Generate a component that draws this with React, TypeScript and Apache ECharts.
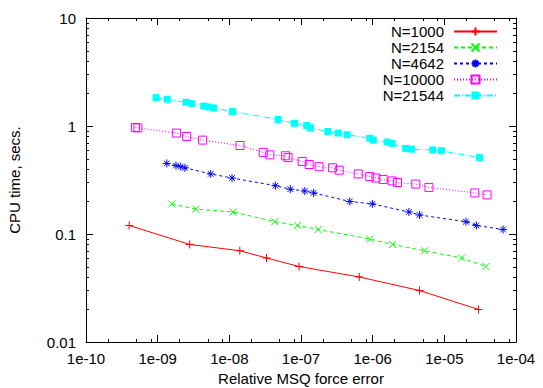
import React, { useEffect, useRef } from "react";
import * as echarts from "echarts";

// ---- data ----
const seriesNames = ["N=1000", "N=2154", "N=4642", "N=10000", "N=21544"];

const n1000X = [4.0e-10, 2.8e-9, 1.4e-8, 3.3e-8, 9.4e-8, 6.5e-7, 4.5e-6, 3.0e-5];
const n1000Y = [0.12, 0.08, 0.07, 0.06, 0.05, 0.04, 0.03, 0.02];

const n2154X = [1.57e-9, 3.4e-9, 1.13e-8, 4.3e-8, 9.0e-8, 1.74e-7, 9.1e-7, 1.9e-6, 5.3e-6, 1.74e-5, 3.8e-5];
const n2154Y = [0.19, 0.17, 0.16, 0.13, 0.12, 0.11, 0.09, 0.08, 0.07, 0.06, 0.05];

const n4642X = [1.34e-9, 1.8e-9, 2.1e-9, 2.4e-9, 5.5e-9, 1.09e-8, 4.4e-8, 7.1e-8, 1.13e-7, 1.5e-7, 4.8e-7, 9.9e-7, 3.2e-6, 4.5e-6, 2.0e-5, 2.8e-5, 6.6e-5];
const n4642Y = [0.45, 0.43, 0.42, 0.41, 0.36, 0.33, 0.28, 0.26, 0.25, 0.24, 0.2, 0.19, 0.16, 0.15, 0.13, 0.12, 0.11];

const n10000X = [4.9e-10, 5.3e-10, 1.84e-9, 2.54e-9, 4.24e-9, 1.41e-8, 2.97e-8, 3.68e-8, 6.1e-8, 6.6e-8, 1.04e-7, 1.3e-7, 1.79e-7, 2.76e-7, 3.41e-7, 6.3e-7, 9.1e-7, 1.11e-6, 1.4e-6, 1.87e-6, 2.22e-6, 4.0e-6, 6.1e-6, 2.66e-5, 3.95e-5];
const n10000Y = [0.97, 0.96, 0.86, 0.8, 0.74, 0.66, 0.57, 0.54, 0.53, 0.51, 0.47, 0.44, 0.42, 0.41, 0.39, 0.36, 0.34, 0.33, 0.32, 0.31, 0.3, 0.29, 0.27, 0.24, 0.23];

const n21544X = [9.5e-10, 1.36e-9, 2.48e-9, 2.98e-9, 4.4e-9, 5.1e-9, 6.0e-9, 1.11e-8, 4.8e-8, 8.1e-8, 1.2e-7, 1.36e-7, 2.37e-7, 3.3e-7, 4.4e-7, 9.1e-7, 1.02e-6, 1.59e-6, 1.87e-6, 2.88e-6, 3.5e-6, 6.9e-6, 9.1e-6, 3.1e-5];
const n21544Y = [1.83, 1.77, 1.66, 1.61, 1.53, 1.5, 1.47, 1.36, 1.15, 1.06, 1.01, 0.96, 0.89, 0.86, 0.83, 0.77, 0.74, 0.71, 0.69, 0.62, 0.61, 0.6, 0.59, 0.51];

const xTickLabels = ["1e-10", "1e-09", "1e-08", "1e-07", "1e-06", "1e-05", "1e-04"];
const xTickExponents = [-10, -9, -8, -7, -6, -5, -4];
const yTickLabels = ["0.01", "0.1", "1", "10"];
const yTickExponents = [-2, -1, 0, 1];
const xMinorMultipliers = [2, 5, 8];
const yMinorMultipliers = [2, 3, 4, 5, 6, 7, 8, 9];

const colors = ["#ff0000", "#00ff00", "#0000ff", "#ff00ff", "#00ffff"];
const dashes: any[] = ["solid", [4, 3], [3, 3], [1, 2], [6, 2, 1, 2]];

const FONT = "'Liberation Sans', Arial, Helvetica, sans-serif";
const FS = 15;

const PLUS = "path://M0,5L10,5M5,0L5,10";
const CROSS = "path://M0,0L10,10M10,0L0,10";
const STAR = "path://M0,5L10,5M5,0L5,10M1.5,1.5L8.5,8.5M8.5,1.5L1.5,8.5";
const SQUARE = "path://M0,0L10,0L10,10L0,10Z";

function zip(xs: number[], ys: number[]) {
  return xs.map((x, i) => [x, ys[i]]);
}

export default function App() {
  const ref = useRef<HTMLDivElement>(null);
  useEffect(() => {
    if (!ref.current) return;
    const chart = echarts.init(ref.current, null, { renderer: "svg" });

    const xMinor: number[][] = [];
    for (let i = 0; i < xTickExponents.length - 1; i++) {
      for (const m of xMinorMultipliers) xMinor.push([m * Math.pow(10, xTickExponents[i]), 1]);
    }
    const yMinor: number[][] = [];
    for (let i = 0; i < yTickExponents.length - 1; i++) {
      for (const m of yMinorMultipliers) yMinor.push([1e-7, m * Math.pow(10, yTickExponents[i])]);
    }

    const xLabel = (v: number) => {
      const e = Math.round(Math.log10(v));
      const idx = xTickExponents.indexOf(e);
      return idx >= 0 ? xTickLabels[idx] : "";
    };
    const yLabel = (v: number) => {
      const e = Math.round(Math.log10(v));
      const idx = yTickExponents.indexOf(e);
      return idx >= 0 ? yTickLabels[idx] : "";
    };

    const axisCommon = {
      type: "log",
      logBase: 10,
      axisLine: { show: true, lineStyle: { color: "#000", width: 1 } },
      axisTick: { show: true, inside: true, length: 7, lineStyle: { color: "#000", width: 1 } },
      splitLine: { show: false },
      minorTick: { show: false },
    };

    const lineSeries = (
      name: string,
      data: number[][],
      color: string,
      symbol: string,
      symbolSize: number,
      dash: any,
      filled: boolean
    ) => ({
      name,
      type: "line",
      data,
      symbol,
      symbolSize,
      showSymbol: true,
      showAllSymbol: true,
      lineStyle: { color, width: 1, type: dash },
      itemStyle: {
        color: filled ? color : "rgba(0,0,0,0)",
        borderColor: color,
        borderWidth: filled ? 0 : 1,
      },
      emphasis: { disabled: true },
      z: 3,
    });

    const minorRender = (isX: boolean) => (params: any, api: any) => {
      const cs = params.coordSys;
      const p = api.coord([api.value(0), api.value(1)]);
      const len = 3;
      if (isX) {
        const x = Math.round(p[0]) + 0.5;
        const b = cs.y + cs.height;
        return {
          type: "group",
          children: [
            { type: "line", shape: { x1: x, y1: b, x2: x, y2: b - len }, style: { stroke: "#000", lineWidth: 1 } },
            { type: "line", shape: { x1: x, y1: cs.y, x2: x, y2: cs.y + len }, style: { stroke: "#000", lineWidth: 1 } },
          ],
        };
      }
      const y = Math.round(p[1]) + 0.5;
      const r = cs.x + cs.width;
      return {
        type: "group",
        children: [
          { type: "line", shape: { x1: cs.x, y1: y, x2: cs.x + len, y2: y }, style: { stroke: "#000", lineWidth: 1 } },
          { type: "line", shape: { x1: r, y1: y, x2: r - len, y2: y }, style: { stroke: "#000", lineWidth: 1 } },
        ],
      };
    };

    chart.setOption({
      animation: false,
      backgroundColor: "#fff",
      textStyle: { fontFamily: FONT },
      grid: {
        left: 86,
        right: 27,
        top: 18,
        bottom: 46,
        outerBoundsMode: "none",
        containLabel: false,
      },
      legend: {
        data: seriesNames,
        orient: "vertical",
        align: "right",
        right: 40,
        top: 19,
        itemWidth: 43,
        itemHeight: 10,
        itemGap: 1,
        textStyle: { fontFamily: FONT, fontSize: FS, color: "#000", padding: [0, 5, 0, 0], lineHeight: 14 },
        selectedMode: false,
      },
      xAxis: [
        {
          ...axisCommon,
          position: "bottom",
          min: 1e-10,
          max: 1e-4,
          splitNumber: 6,
          name: "Relative MSQ force error",
          nameLocation: "middle",
          nameGap: 28,
          nameTextStyle: { fontFamily: FONT, fontSize: FS, color: "#000" },
          axisLabel: { formatter: xLabel, fontFamily: FONT, fontSize: FS, color: "#000", margin: 9 },
        },
        {
          ...axisCommon,
          position: "top",
          min: 1e-10,
          max: 1e-4,
          splitNumber: 6,
          axisLabel: { show: false },
        },
      ],
      yAxis: [
        {
          ...axisCommon,
          position: "left",
          min: 0.01,
          max: 10,
          splitNumber: 3,
          name: "CPU time, secs.",
          nameLocation: "middle",
          nameRotate: 90,
          nameGap: 64,
          nameTextStyle: { fontFamily: FONT, fontSize: FS, color: "#000" },
          axisLabel: { formatter: yLabel, fontFamily: FONT, fontSize: FS, color: "#000", margin: 10 },
        },
        {
          ...axisCommon,
          position: "right",
          min: 0.01,
          max: 10,
          splitNumber: 3,
          axisLabel: { show: false },
        },
      ],
      series: [
        lineSeries(seriesNames[0], zip(n1000X, n1000Y), colors[0], PLUS, 8, dashes[0], false),
        lineSeries(seriesNames[1], zip(n2154X, n2154Y), colors[1], CROSS, 7, dashes[1], false),
        lineSeries(seriesNames[2], zip(n4642X, n4642Y), colors[2], STAR, 8, dashes[2], false),
        lineSeries(seriesNames[3], zip(n10000X, n10000Y), colors[3], SQUARE, 8, dashes[3], false),
        lineSeries(seriesNames[4], zip(n21544X, n21544Y), colors[4], "rect", 7, dashes[4], true),
        {
          type: "custom",
          name: "xminor",
          data: xMinor,
          renderItem: minorRender(true),
          silent: true,
          z: 1,
        },
        {
          type: "custom",
          name: "yminor",
          data: yMinor,
          renderItem: minorRender(false),
          silent: true,
          z: 1,
        },
      ],
    } as any);

    return () => chart.dispose();
  }, []);

  return (
    <div
      ref={ref}
      style={{ position: "fixed", left: 0, top: 0, width: 543, height: 388, background: "#fff" }}
    />
  );
}
